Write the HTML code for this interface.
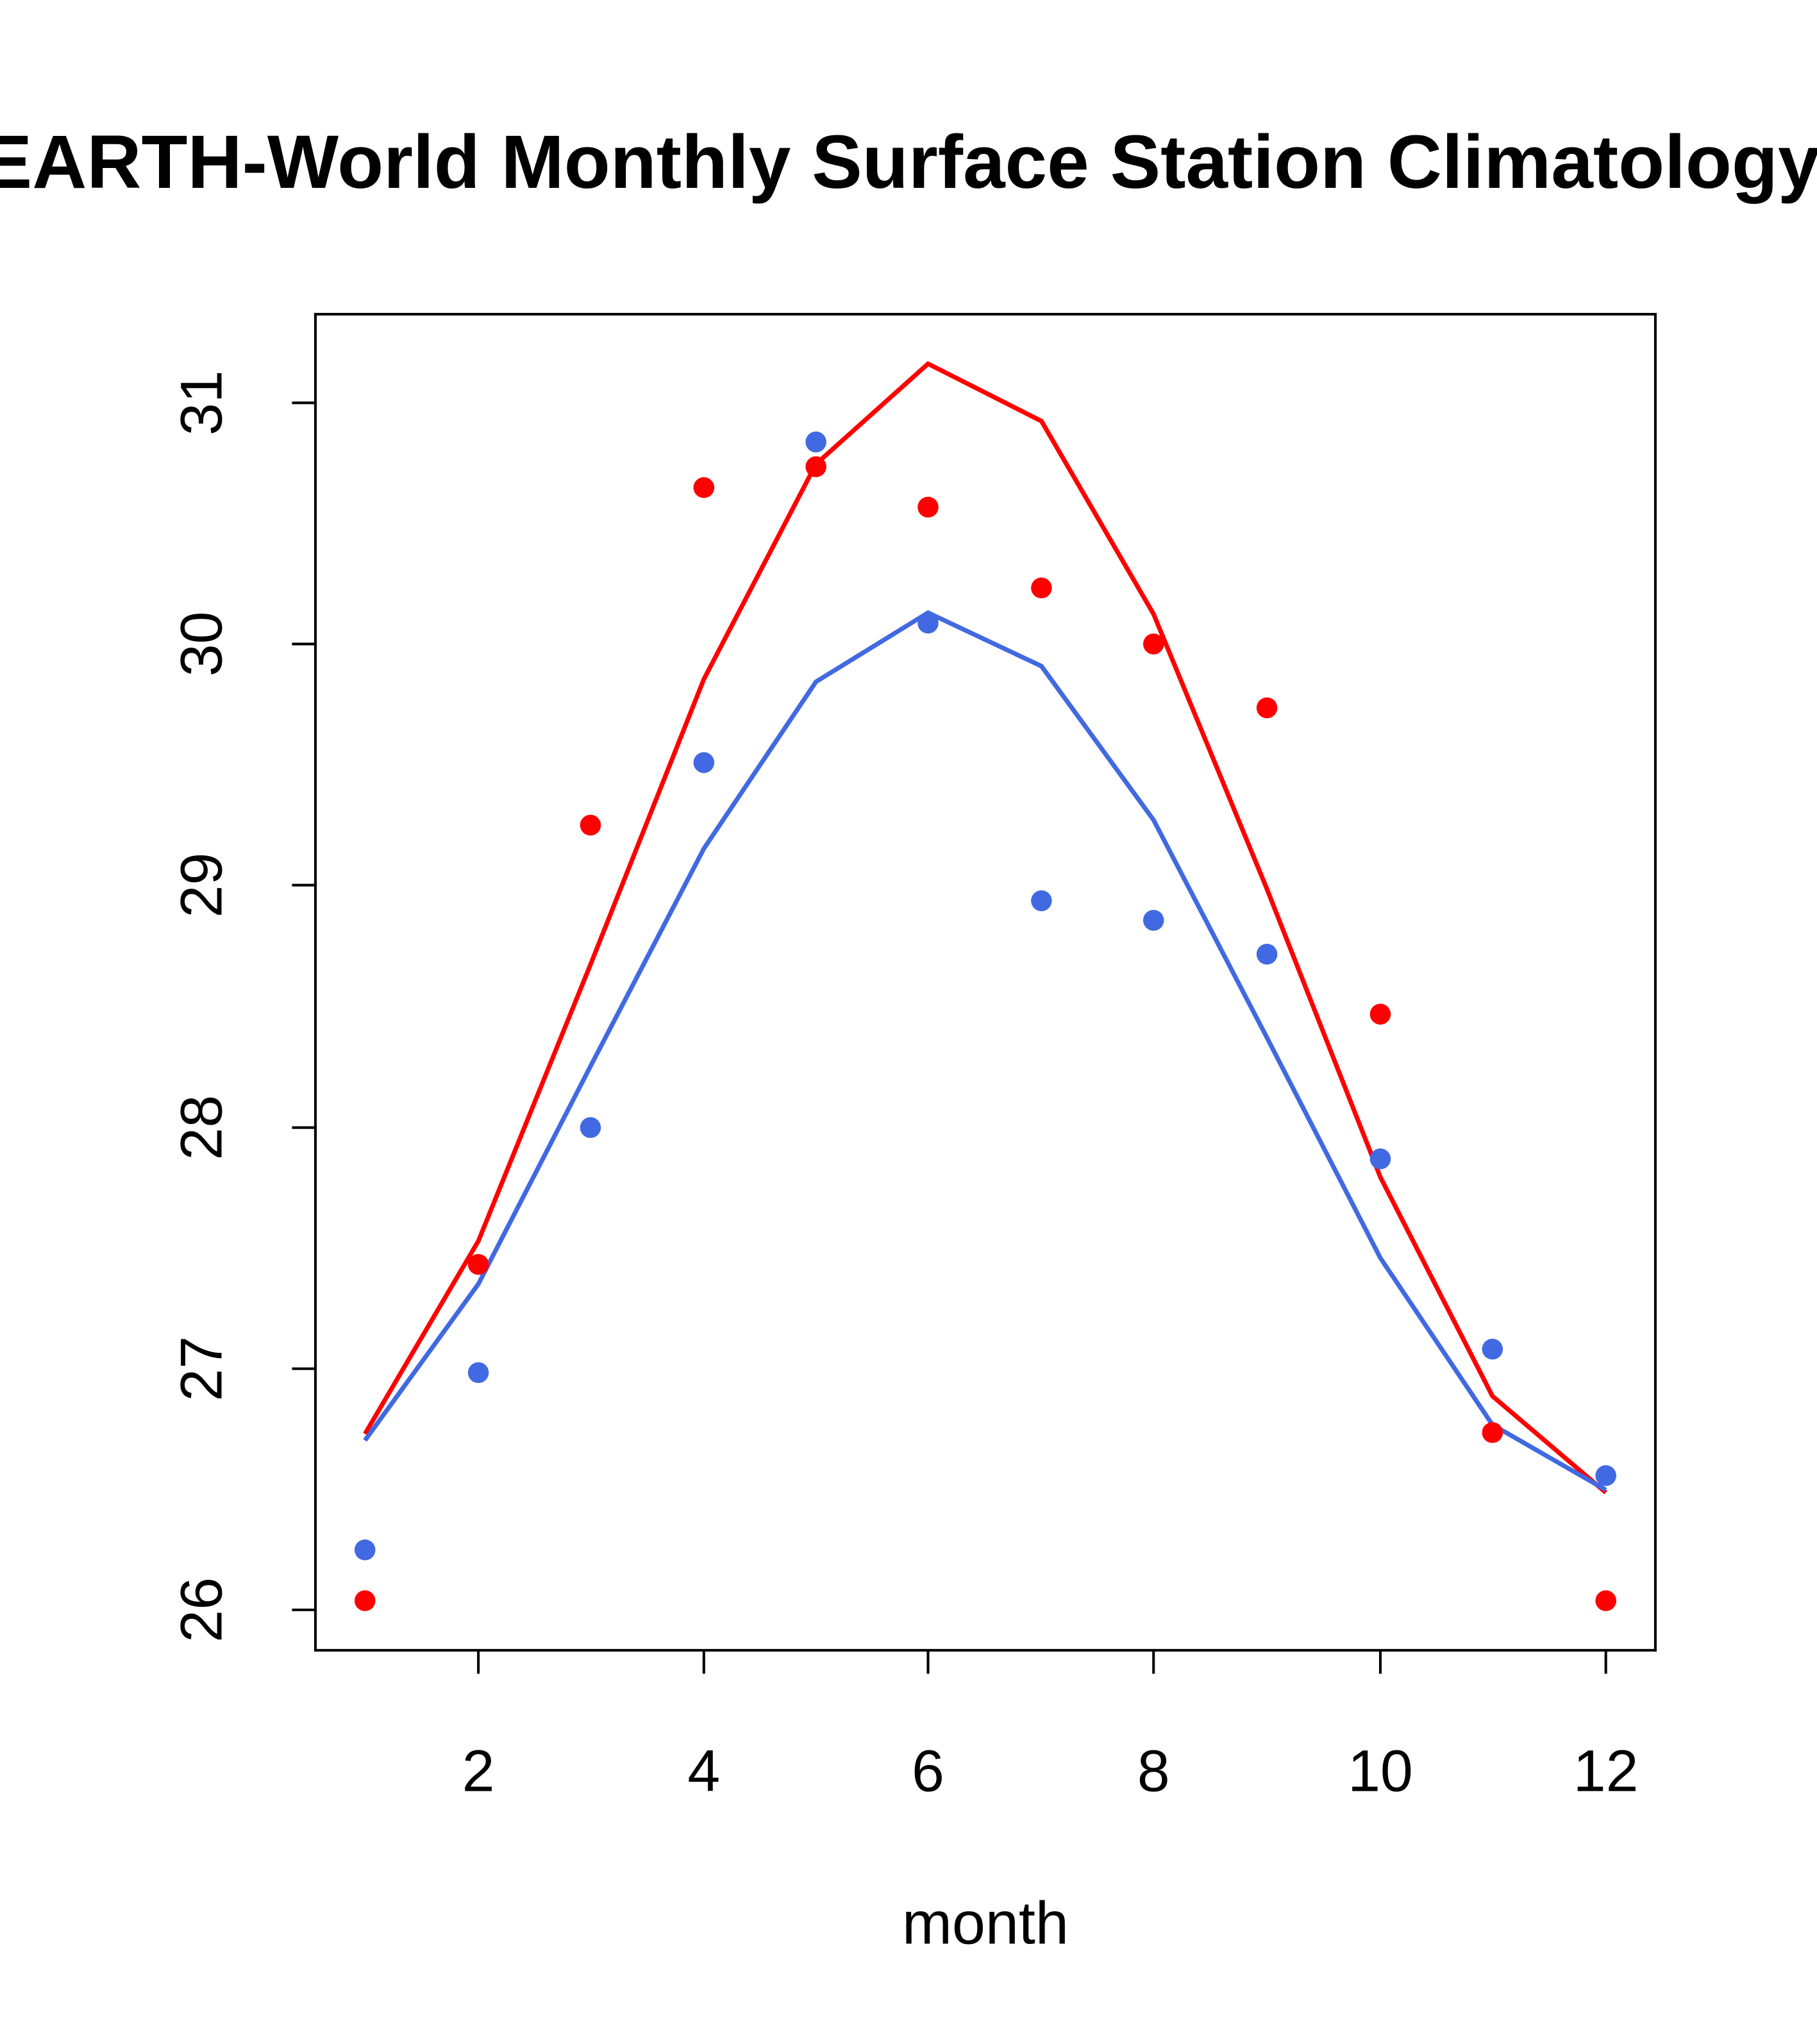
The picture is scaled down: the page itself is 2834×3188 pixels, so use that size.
<!DOCTYPE html>
<html><head><meta charset="utf-8"><style>
html,body{margin:0;padding:0;background:#fff;}
svg{display:block;}
text{font-family:"Liberation Sans",sans-serif;fill:#000;}
</style></head><body>
<svg width="2834" height="3188" viewBox="0 0 1394 1568" xmlns="http://www.w3.org/2000/svg">
<rect width="1394" height="1568" fill="#fff"/>
<text x="-14" y="144" font-size="58" font-weight="bold">EARTH-World Monthly Surface Station Climatology</text>
<rect x="242" y="241" width="1028" height="1025" fill="none" stroke="#000" stroke-width="2"/>
<g stroke="#000" stroke-width="2">
<line x1="367" y1="1266" x2="367" y2="1284"/><line x1="540" y1="1266" x2="540" y2="1284"/>
<line x1="712" y1="1266" x2="712" y2="1284"/><line x1="885" y1="1266" x2="885" y2="1284"/>
<line x1="1059" y1="1266" x2="1059" y2="1284"/><line x1="1232" y1="1266" x2="1232" y2="1284"/>
<line x1="224" y1="309" x2="242" y2="309"/><line x1="224" y1="494" x2="242" y2="494"/>
<line x1="224" y1="679" x2="242" y2="679"/><line x1="224" y1="865" x2="242" y2="865"/>
<line x1="224" y1="1050" x2="242" y2="1050"/><line x1="224" y1="1235" x2="242" y2="1235"/>
</g>
<g font-size="45" text-anchor="middle">
<text x="367" y="1374">2</text><text x="540" y="1374">4</text><text x="712" y="1374">6</text>
<text x="885" y="1374">8</text><text x="1059" y="1374">10</text><text x="1232" y="1374">12</text>
<text x="756" y="1491" font-size="46">month</text>
<text transform="translate(170,309) rotate(-90)">31</text>
<text transform="translate(170,494) rotate(-90)">30</text>
<text transform="translate(170,679) rotate(-90)">29</text>
<text transform="translate(170,865) rotate(-90)">28</text>
<text transform="translate(170,1050) rotate(-90)">27</text>
<text transform="translate(170,1235) rotate(-90)">26</text>
</g>
<polyline fill="none" stroke="#ff0000" stroke-width="3.5" points="280,1100 367,952 453,740 540,521 626,356 712,279 799,323 885,471 972,682 1059,903 1145,1071 1232,1145"/>
<polyline fill="none" stroke="#4169e1" stroke-width="3.5" points="280,1105 367,985 453,818 540,651 626,523 712,470 799,511 885,629 972,796 1059,965 1145,1093 1232,1143"/>
<g fill="#ff0000">
<circle cx="280" cy="1228" r="8"/><circle cx="367" cy="970" r="8"/><circle cx="453" cy="633" r="8"/>
<circle cx="540" cy="374" r="8"/><circle cx="626" cy="358" r="8"/><circle cx="712" cy="389" r="8"/>
<circle cx="799" cy="451" r="8"/><circle cx="885" cy="494" r="8"/><circle cx="972" cy="543" r="8"/>
<circle cx="1059" cy="778" r="8"/><circle cx="1145" cy="1099" r="8"/><circle cx="1232" cy="1228" r="8"/>
</g>
<g fill="#4169e1">
<circle cx="280" cy="1189" r="8"/><circle cx="367" cy="1053" r="8"/><circle cx="453" cy="865" r="8"/>
<circle cx="540" cy="585" r="8"/><circle cx="626" cy="339" r="8"/><circle cx="712" cy="478" r="8"/>
<circle cx="799" cy="691" r="8"/><circle cx="885" cy="706" r="8"/><circle cx="972" cy="732" r="8"/>
<circle cx="1059" cy="889" r="8"/><circle cx="1145" cy="1035" r="8"/><circle cx="1232" cy="1132" r="8"/>
</g>
</svg>
</body></html>
